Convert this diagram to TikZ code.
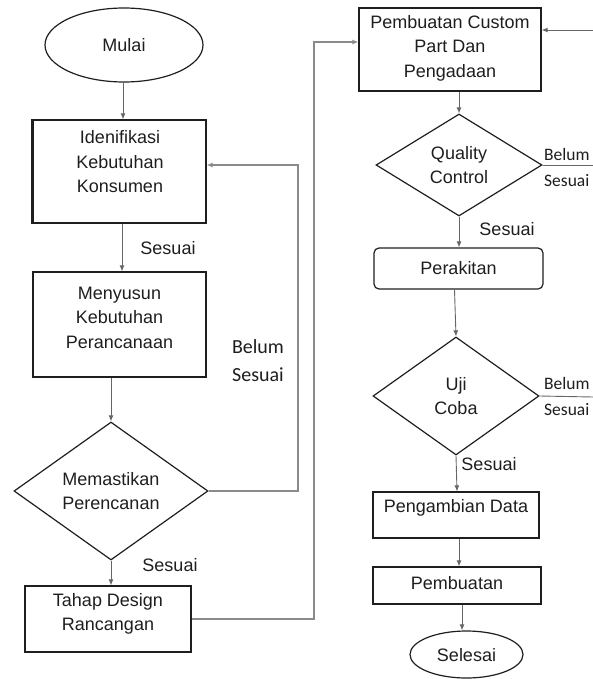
\documentclass[tikz,border=0pt]{standalone}
\usepackage{fontspec}
\setmainfont{Liberation Sans}
\newfontfamily\carl{Carlito}
\usetikzlibrary{shapes.geometric,arrows.meta}
\definecolor{ink}{HTML}{1E1E1E}
\definecolor{conn}{HTML}{666666}
\definecolor{longc}{HTML}{8A8A8A}
\tikzset{
  box/.style={draw=ink, line width=1.2pt, rectangle, inner sep=0pt},
  rbox/.style={box, rounded corners=5pt},
  oval/.style={draw=ink, line width=1.2pt, ellipse, inner sep=0pt},
  dia/.style={draw=ink, line width=1.2pt, diamond, aspect=1.4, inner sep=0pt, align=center, text=ink, font=\fontsize{18}{24}\selectfont},
  txt/.style={align=center, text=ink, inner sep=0pt, font=\fontsize{18}{24.5}\selectfont},
  clbl/.style={align=center, text=ink, inner sep=0pt, font=\carl\fontsize{20}{28}\selectfont},
  rlbl/.style={align=left, text=ink, inner sep=0pt, anchor=west, font=\carl\fontsize{17.5}{26}\selectfont},
  arr/.style={draw=conn, line width=0.9pt, -{Latex[length=6pt,width=5pt]}},
  line/.style={draw=conn, line width=0.9pt},
  longarr/.style={draw=longc, line width=1.4pt, -{Latex[length=6pt,width=5pt]}},
}
\begin{document}
\begin{tikzpicture}[x=1pt,y=-1pt]
\useasboundingbox (0,0) rectangle (593,679);
% left column
\node[oval, minimum width=158, minimum height=74] (mul) at (124,45) {};
\node[txt] (mult) at (124,45) {Mulai};
\node[box, minimum width=173, minimum height=103] (idn) at (119.5,171.5) {};
\draw[ink, line width=2.2pt] (idn.north west) -- (idn.south west);
\node[txt] (idnt) at (120,162) {Idenifikasi\\Kebutuhan\\Konsumen};
\node[box, minimum width=173, minimum height=105] (mny) at (119.5,324.5) {};
\node[txt] (mnyt) at (119.5,317.5) {Menyusun\\Kebutuhan\\Perancanaan};
\node[dia, minimum width=194, minimum height=138] (dmp) at (111,491) {Memastikan\\Perencanan};
\node[box, minimum width=166, minimum height=66] (thp) at (108,619) {};
\node[txt] (thpt) at (108,614) {Tahap Design\\Rancangan};
% right column
\node[box, minimum width=182, minimum height=83] (pcp) at (450,49.5) {};
\node[txt] (pcpt) at (450,48) {Pembuatan Custom\\Part Dan\\Pengadaan};
\node[dia, minimum width=166, minimum height=102] (qc) at (459,165) {Quality\\Control};
\node[rbox, minimum width=169, minimum height=41] (prk) at (458.5,268.5) {};
\node[txt] (prkt) at (458.5,268) {Perakitan};
\node[dia, minimum width=166, minimum height=118] (uji) at (456,396) {Uji\\Coba};
\node[box, minimum width=166, minimum height=46] (pgd) at (456,515) {};
\node[txt] (pgdt) at (456,508) {Pengambian Data};
\node[box, minimum width=168, minimum height=37] (pbt) at (457,585.5) {};
\node[txt] (pbtt) at (457,583) {Pembuatan};
\node[oval, minimum width=113, minimum height=47] (sls) at (466.5,654.5) {};
\node[txt] (slst) at (466.5,655) {Selesai};
% labels
\node[txt] (l1) at (168,248) {Sesuai};
\node[clbl] (l2) at (258,361) {Belum\\Sesuai};
\node[txt] (l3) at (170,565) {Sesuai};
\node[txt] (l4) at (507,229) {Sesuai};
\node[rlbl] (l5) at (544,167) {Belum\\Sesuai};
\node[rlbl] (l6) at (544,396) {Belum\\Sesuai};
\node[txt] (l7) at (489,464) {Sesuai};
% coordinates
\coordinate (r0) at (298,165);
\coordinate (r1) at (314,42);
\coordinate (e1) at (593,30);
\coordinate (e2) at (593,165);
\coordinate (e3) at (593,397);
% connectors left
\draw[arr] ([xshift=-1pt]mul.south) -- ([xshift=-1pt]mul.south |- idn.north);
\draw[arr] ([xshift=2.5pt]idn.south) -- ([xshift=2.5pt]idn.south |- mny.north);
\draw[arr] (dmp.north |- mny.south) -- (dmp.north);
\draw[arr] (dmp.south) -- (dmp.south |- thp.north);
\draw[longarr] (dmp.east) -| (r0) -- (idn.east |- r0);
\draw[longarr] (thp.east) -| (r1) -- (pcp.west |- r1);
% connectors right
\draw[arr] (e1) -- (pcp.east |- e1);
\draw[arr] (qc.north |- pcp.south) -- (qc.north);
\draw[arr] (qc.south) -- (qc.south |- prk.north);
\draw[arr] ([xshift=-4pt]prk.south) -- (uji.north);
\draw[line] (qc.east) -- (e2);
\draw[line] (uji.east) -- (e3);
\draw[arr] (uji.south) -- ([xshift=1pt]uji.south |- pgd.north);
\draw[arr] ([xshift=3pt]pgd.south) -- ([xshift=3pt]pgd.south |- pbt.north);
\draw[arr] ([xshift=5pt]pbt.south) -- ([xshift=-4.5pt]sls.north);
\end{tikzpicture}
\end{document}
